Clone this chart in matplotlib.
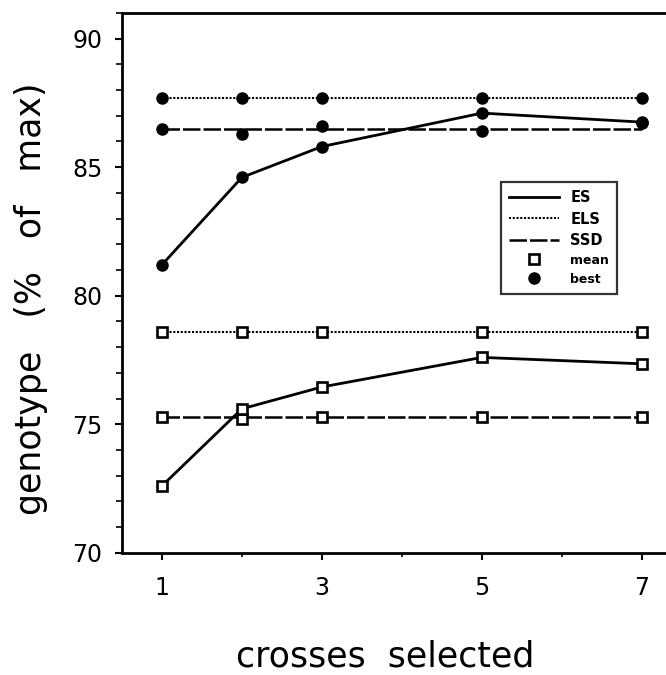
import matplotlib
matplotlib.use("Agg")
import matplotlib.pyplot as plt
from matplotlib.lines import Line2D
from matplotlib.ticker import MultipleLocator

# crosses selected per generation
crosses = [1, 2, 3, 5, 7]

# ES (solid)
es_mean = [72.6, 75.6, 76.45, 77.6, 77.35]
es_best = [81.2, 84.6, 85.8, 87.1, 86.75]

# ELS (dotted)
els_mean = [78.6, 78.6, 78.6, 78.6, 78.6]
els_best = [87.7, 87.7, 87.7, 87.7, 87.7]

# SSD (dashed): level line and per-point values
ssd_mean = [75.3, 75.2, 75.3, 75.3, 75.3]
ssd_mean_level = [75.3, 75.3, 75.3, 75.3, 75.3]
ssd_best = [86.5, 86.3, 86.6, 86.4, 86.7]
ssd_best_level = [86.5, 86.5, 86.5, 86.5, 86.5]

plt.rcParams["font.family"] = "DejaVu Sans"

fig = plt.figure(figsize=(6.66, 6.75), dpi=100)
ax = fig.add_axes([0.183, 0.181, 0.817, 0.8])

lw = 2.0
dotted = (0, (1.0, 0.8))
dashed = (0, (7, 1.2))
sq = dict(marker="s", markersize=7.5, markerfacecolor="white",
          markeredgecolor="black", markeredgewidth=1.9, linestyle="none")
dot = dict(marker="o", markersize=8, color="black", linestyle="none")

# lines
ax.plot(crosses, els_best, color="black", lw=1.5, linestyle=dotted)
ax.plot(crosses, ssd_best_level, color="black", lw=1.8, linestyle=dashed)
ax.plot(crosses, es_best, color="black", lw=lw)
ax.plot(crosses, els_mean, color="black", lw=1.5, linestyle=dotted)
ax.plot(crosses, ssd_mean_level, color="black", lw=1.8, linestyle=dashed)
ax.plot(crosses, es_mean, color="black", lw=lw)

# markers
for ys in (els_best, ssd_best, es_best):
    ax.plot(crosses, ys, **dot)
for ys in (els_mean, ssd_mean, es_mean):
    ax.plot(crosses, ys, **sq)

ax.set_xlim(0.5, 7.3)
ax.set_ylim(70, 91)
ax.set_xticks([1, 3, 5, 7])
ax.xaxis.set_minor_locator(MultipleLocator(1))
ax.set_yticks([70, 75, 80, 85, 90])
ax.yaxis.set_minor_locator(MultipleLocator(1))

ax.spines["right"].set_visible(False)
for s in ("left", "bottom", "top"):
    ax.spines[s].set_linewidth(2)

ax.tick_params(axis="y", which="major", direction="out", length=5, width=1.5,
               labelsize=17, pad=9)
ax.tick_params(axis="y", which="minor", direction="out", length=4, width=1.2)
ax.tick_params(axis="x", which="major", direction="out", length=5, width=1.5,
               labelsize=17, pad=12)
ax.tick_params(axis="x", which="minor", direction="out", length=3, width=1.2)

ax.set_xlabel("crosses  selected", fontsize=25)
ax.set_ylabel("genotype   (%   of   max)", fontsize=25)
ax.xaxis.set_label_coords(0.483, -0.16)
ax.yaxis.set_label_coords(-0.135, 0.47)

# legend
handles = [
    Line2D([], [], color="black", lw=lw),
    Line2D([], [], color="black", lw=1.5, linestyle=dotted),
    Line2D([], [], color="black", lw=1.8, linestyle=dashed),
    Line2D([], [], **sq),
    Line2D([], [], **dot),
]
labels = ["ES", "ELS", "SSD", "mean", "best"]
leg = ax.legend(handles, labels, loc="upper left",
                bbox_to_anchor=(0.697, 0.686), frameon=True, fancybox=False,
                edgecolor="black", handlelength=3.4, handletextpad=0.8,
                borderpad=0.55, labelspacing=0.42, fontsize=10.5,
                borderaxespad=0)
leg.get_frame().set_linewidth(1.6)
for i, t in enumerate(leg.get_texts()):
    t.set_fontweight("bold")
    if i >= 3:
        t.set_fontsize(9)

fig.savefig("out.png", dpi=100)
